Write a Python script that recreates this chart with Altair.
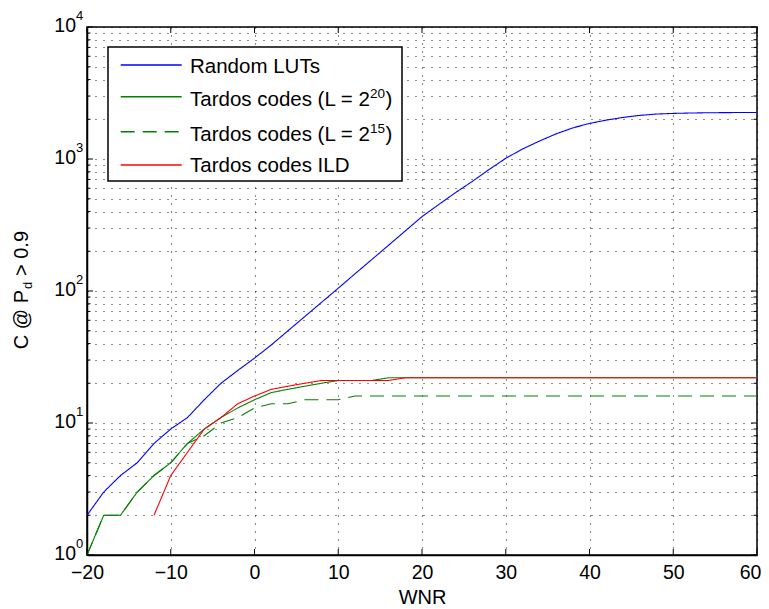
import altair as alt
import pandas as pd

FONT = "Liberation Sans"

# ---- data ----
wnr = [-20, -18, -16, -14, -12, -10, -8, -6, -4, -2, 0, 2, 4, 6, 8, 10, 12, 14, 16, 18,
       20, 22, 24, 26, 28, 30, 32, 34, 36, 38, 40, 42, 44, 46, 48, 50, 52, 54, 56, 58, 60]
random_luts = [2, 3, 4, 5, 7, 9, 11, 15, 20, 25, 31, 39, 50, 64, 82, 105, 135, 173, 222, 285,
               366, 452, 556, 676, 832, 1012, 1190, 1365, 1550, 1720, 1860, 1970, 2065, 2140,
               2190, 2215, 2230, 2240, 2245, 2250, 2250]
tardos_l20 = [1, 2, 2, 3, 4, 5, 7, 9, 11, 13, 15, 17, 18, 19, 20, 21, 21, 21, 22, 22,
              22, 22, 22, 22, 22, 22, 22, 22, 22, 22, 22, 22, 22, 22, 22, 22, 22, 22, 22, 22, 22]
tardos_l15 = [1, 2, 2, 3, 4, 5, 7, 8, 10, 11, 13, 14, 14, 15, 15, 15, 16, 16, 16, 16,
              16, 16, 16, 16, 16, 16, 16, 16, 16, 16, 16, 16, 16, 16, 16, 16, 16, 16, 16, 16, 16]
ild_wnr = [-12, -10, -8, -6, -4, -2, 0, 2, 4, 6, 8, 10, 12, 14, 16, 18, 20, 22, 24, 26,
           28, 30, 32, 34, 36, 38, 40, 42, 44, 46, 48, 50, 52, 54, 56, 58, 60]
tardos_ild = [2, 4, 6, 9, 11, 14, 16, 18, 19, 20, 21, 21, 21, 21, 21, 22, 22, 22, 22, 22,
              22, 22, 22, 22, 22, 22, 22, 22, 22, 22, 22, 22, 22, 22, 22, 22, 22]

series_names = ["Random LUTs", "Tardos codes (L = 2^20)", "Tardos codes (L = 2^15)", "Tardos codes ILD"]
legend_main = ["Random LUTs", "Tardos codes (L = 2", "Tardos codes (L = 2", "Tardos codes ILD"]
legend_sup = ["", "20", "15", ""]
legend_tail = ["", ")", ")", ""]
series_colors = ["#0000ff", "#008000", "#008000", "#ff0000"]
series_dashes = [[1, 0], [1, 0], [14, 8], [1, 0]]

x_ticks = [-20, -10, 0, 10, 20, 30, 40, 50, 60]
y_major = [1, 10, 100, 1000, 10000]
y_major_base = ["10", "10", "10", "10", "10"]
y_major_exp = ["0", "1", "2", "3", "4"]
y_minor = [2, 3, 4, 5, 6, 7, 8, 9, 20, 30, 40, 50, 60, 70, 80, 90,
           200, 300, 400, 500, 600, 700, 800, 900, 2000, 3000, 4000, 5000, 6000, 7000, 8000, 9000]

# ---- build table ----
rows = []
for xs, ys, name in [(wnr, random_luts, series_names[0]), (wnr, tardos_l20, series_names[1]),
                     (wnr, tardos_l15, series_names[2]), (ild_wnr, tardos_ild, series_names[3])]:
    for a, b in zip(xs, ys):
        rows.append({"wnr": a, "c": b, "series": name})
df = pd.DataFrame(rows)

W, H = 670, 528

xscale = alt.Scale(domain=[-20, 60], nice=False, zero=False)
yscale = alt.Scale(type="log", domain=[1, 10000], nice=False)
xaxis = alt.Axis(values=x_ticks, grid=True, ticks=False, labelPadding=8, labelFlush=False,
                 labelOffset={"condition": {"test": "datum.value == 60", "value": -7}, "value": 0},
                 title="WNR", titleBaseline="alphabetic", titleY=48, format="d")
yaxis = alt.Axis(values=sorted(y_major + y_minor), grid=True, ticks=False, labels=False, title="")

X = alt.X("wnr:Q", scale=xscale, axis=xaxis)
Y = alt.Y("c:Q", scale=yscale, axis=yaxis)

lines = alt.Chart(df).mark_line(strokeWidth=1.1, clip=True).encode(
    x=X, y=Y,
    color=alt.Color("series:N", scale=alt.Scale(domain=series_names, range=series_colors), legend=None),
    strokeDash=alt.StrokeDash("series:N", scale=alt.Scale(domain=series_names, range=series_dashes), legend=None),
)

ymaj = pd.DataFrame({"c": y_major, "base": y_major_base, "exp": y_major_exp})
ymin = pd.DataFrame({"c": y_minor})
xt = pd.DataFrame({"wnr": x_ticks})

def yticks(data, length):
    left = alt.Chart(data).mark_rule(color="black", strokeWidth=1).encode(
        y=Y, x=alt.value(0), x2=alt.value(length))
    right = alt.Chart(data).mark_rule(color="black", strokeWidth=1).encode(
        y=Y, x=alt.value(W), x2=alt.value(W - length))
    return [left, right]

def xticks(data, length):
    bottom = alt.Chart(data).mark_rule(color="black", strokeWidth=1).encode(
        x=X, y=alt.value(H), y2=alt.value(H - length))
    top = alt.Chart(data).mark_rule(color="black", strokeWidth=1).encode(
        x=X, y=alt.value(0), y2=alt.value(length))
    return [bottom, top]

# y tick labels 10^k drawn with a real superscript
ylab_base = alt.Chart(ymaj).mark_text(align="right", baseline="middle", font=FONT, fontSize=19.5,
                                      color="black", dy=-1).encode(
    y=Y, x=alt.value(-11), text="base:N")
ylab_exp = alt.Chart(ymaj).mark_text(align="left", baseline="middle", font=FONT, fontSize=13,
                                     color="black", dy=-11).encode(
    y=Y, x=alt.value(-11), text="exp:N")

one = pd.DataFrame({"a": [0]})
ytitle_a = alt.Chart(one).mark_text(text="C @ P", angle=270, align="right", baseline="middle",
                                    font=FONT, fontSize=20, color="black").encode(
    x=alt.value(-65), y=alt.value(263))
ytitle_b = alt.Chart(one).mark_text(text="d", angle=270, align="left", baseline="middle",
                                    font=FONT, fontSize=13, color="black").encode(
    x=alt.value(-59), y=alt.value(262))
ytitle_c = alt.Chart(one).mark_text(text="> 0.9", angle=270, align="left", baseline="middle",
                                    font=FONT, fontSize=20, color="black").encode(
    x=alt.value(-65), y=alt.value(249))

# ---- legend box ----
leg_layers = [alt.Chart(one).mark_rect(fill="white", stroke="black", strokeWidth=1.5).encode(
    x=alt.value(21), x2=alt.value(315), y=alt.value(20), y2=alt.value(154))]
row_line = [38, 69.7, 104.7, 138]
row_base = [45.5, 78.5, 113.5, 144.5]
for i in range(4):
    leg_layers.append(alt.Chart(one).mark_rule(color=series_colors[i], strokeDash=series_dashes[i],
                                               strokeWidth=1.4).encode(
        x=alt.value(33.7), x2=alt.value(94.7), y=alt.value(row_line[i])))
    leg_layers.append(alt.Chart(one).mark_text(text=legend_main[i], align="left", baseline="alphabetic",
                                               font=FONT, fontSize=20.5, color="black").encode(
        x=alt.value(103), y=alt.value(row_base[i])))
    if legend_sup[i]:
        leg_layers.append(alt.Chart(one).mark_text(text=legend_sup[i], align="left", baseline="alphabetic",
                                                   font=FONT, fontSize=13.5, color="black").encode(
            x=alt.value(283), y=alt.value(row_base[i] - 8)))
        leg_layers.append(alt.Chart(one).mark_text(text=legend_tail[i], align="left", baseline="alphabetic",
                                                   font=FONT, fontSize=20.5, color="black").encode(
            x=alt.value(298.5), y=alt.value(row_base[i])))

layers = ([lines] + yticks(ymaj, 6) + yticks(ymin, 3.5) + xticks(xt, 6)
          + [ylab_base, ylab_exp, ytitle_a, ytitle_b, ytitle_c] + leg_layers)

chart = alt.layer(*layers).properties(
    width=W, height=H,
    autosize=alt.AutoSizeParams(type="none"),
    padding={"left": 79, "top": 19, "right": 4, "bottom": 54},
    background="white",
).configure_view(
    stroke="black", strokeWidth=1.5
).configure_axis(
    domainColor="black", domainWidth=1.5,
    labelFont=FONT, labelFontSize=19.5, labelColor="black",
    titleFont=FONT, titleFontSize=20, titleFontWeight="normal", titleColor="black",
    gridColor="black", gridDash=[1, 7], gridOpacity=0.9, gridWidth=1.1,
)

chart.save("out.html", embed_options={"renderer": "svg", "actions": False})
